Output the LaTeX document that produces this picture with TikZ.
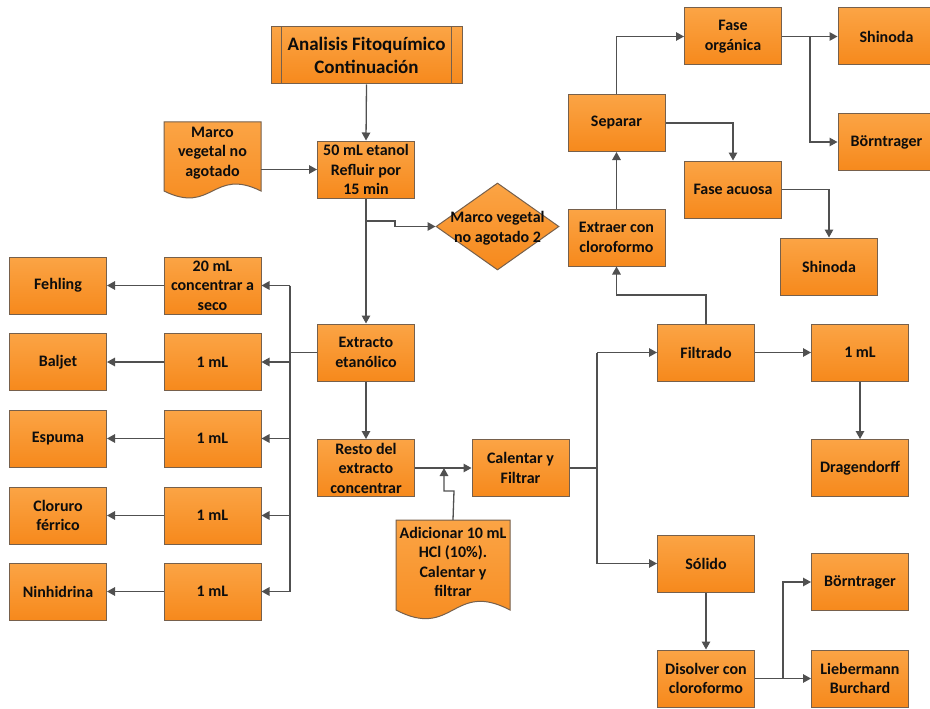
\documentclass[tikz,border=0pt]{standalone}
\usepackage{fontspec}
\setmainfont{Carlito}
\usetikzlibrary{arrows.meta,shapes.geometric}
\definecolor{boxtop}{HTML}{FBA445}
\definecolor{boxbot}{HTML}{F6891C}
\definecolor{boxline}{HTML}{76604C}
\definecolor{wire}{HTML}{505050}
\tikzset{
  txt/.style={font=\fontsize{16}{19.5}\selectfont\bfseries, text=black!95, align=center},
  stepbox/.style={txt, draw=boxline, line width=1pt, top color=boxtop, bottom color=boxbot,
    minimum width=97pt, minimum height=57pt, inner sep=1pt},
  docfill/.style={draw=boxline, line width=1pt, top color=boxtop, bottom color=boxbot},
  conn/.style={draw=wire, line width=1.3pt},
  arr/.style={conn, -{Triangle[length=8pt,width=8.5pt]}}
}
% document shape: flat top, wavy bottom edge
\newcommand\docpath[5]{%
  \path[docfill] (#1,#2) -- (#3,#2) -- (#3,#4)
    .. controls ({(#1+#3)/2},{#4-#5}) and ({(#1+#3)/2},{#4+#5}) .. (#1,#4) -- cycle;}
\begin{document}
\begin{tikzpicture}[x=1pt,y=-1pt]
\path[fill=white,use as bounding box] (0,0) rectangle (930,709);

% title (predefined process)
\node[stepbox, minimum width=191pt, font=\fontsize{19}{23}\selectfont\bfseries] (title) at (366.5,55.5)
  {Analisis Fitoquímico\\Continuación};
\draw[boxline, line width=1pt] ([xshift=11pt]title.north west) -- ([xshift=11pt]title.south west);
\draw[boxline, line width=1pt] ([xshift=-11pt]title.north east) -- ([xshift=-11pt]title.south east);

% main column
\node[stepbox] (t50) at (366,169.5) {50 mL etanol\\Refluir por\\15 min};
\node[stepbox] (ext) at (366,352.5) {Extracto\\etanólico};
\node[stepbox] (resto) at (366,468) {Resto del\\extracto\\concentrar};
\node[stepbox] (cal) at (520.5,468) {Calentar y\\Filtrar};

% documents
\docpath{164}{122}{261}{191}{24}
\node[txt, minimum width=97pt, minimum height=60pt, inner sep=0pt] (marco) at (212.5,153) {Marco\\vegetal no\\agotado};
\docpath{396}{520}{510}{610}{30}
\node[txt, minimum width=114pt, minimum height=84pt, inner sep=0pt] (adic) at (453,562)
  {Adicionar 10 mL\\HCl (10\%).\\Calentar y\\filtrar};

% decision
\node[diamond, draw=boxline, line width=1pt, top color=boxtop, bottom color=boxbot,
  minimum width=123pt, minimum height=87pt, inner sep=0pt] (dia) at (497.5,226.5) {};
\node[txt, inner sep=0pt] (diatext) at (497.5,228) {Marco vegetal\\no agotado 2};

% left branch
\node[stepbox] (m1) at (212.5,285.5) {20 mL\\concentrar a\\seco};
\node[stepbox] (m2) at (212.5,362) {1 mL};
\node[stepbox] (m3) at (212.5,438.5) {1 mL};
\node[stepbox] (m4) at (212.5,515.5) {1 mL};
\node[stepbox] (m5) at (212.5,591.5) {1 mL};
\node[stepbox] (l1) at (58,285.5) {Fehling};
\node[stepbox] (l2) at (58,362) {Baljet};
\node[stepbox] (l3) at (58,438.5) {Espuma};
\node[stepbox] (l4) at (58,515.5) {Cloruro\\férrico};
\node[stepbox] (l5) at (58,591.5) {Ninhidrina};

% right part
\node[stepbox] (filt) at (706,352.5) {Filtrado};
\node[stepbox] (mlr) at (860,352.5) {1 mL};
\node[stepbox] (drag) at (860,468) {Dragendorff};
\node[stepbox] (sol) at (706,563.5) {Sólido};
\node[stepbox] (dis) at (706,678.5) {Disolver con\\cloroformo};
\node[stepbox] (bornb) at (860,582) {Börntrager};
\node[stepbox] (lieb) at (860,678.5) {Liebermann\\Burchard};
\node[stepbox] (extr) at (616.5,237.5) {Extraer con\\cloroformo};
\node[stepbox] (sep) at (616.5,123) {Separar};
\node[stepbox] (forg) at (733,36.5) {Fase\\orgánica};
\node[stepbox] (shin1) at (886.5,36.5) {Shinoda};
\node[stepbox] (bornt) at (886.5,142) {Börntrager};
\node[stepbox] (facu) at (733,189.5) {Fase acuosa};
\node[stepbox] (shin2) at (829,266.5) {Shinoda};

% junction points
\coordinate (b1) at (366,221);
\coordinate (b2) at (395,226.5);
\coordinate (bus) at (290,352.5);
\coordinate (j1) at (444,468);
\coordinate (j2) at (454,491);
\coordinate (bus2) at (597,468);
\coordinate (k1) at (616.5,295);
\coordinate (fj) at (810,36.5);
\coordinate (dj) at (783,678.5);

% connectors
\draw[arr] (title.south) -- (t50.north);
\draw[arr] (t50.west -| marco.east) -- (t50.west);
\draw[arr] (t50.south) -- (ext.north);
\draw[arr] (b1) -| (b2) -- (dia.west);
\draw[conn] (ext.west) -- (bus);
\draw[conn] (m1.east -| bus) -- (m5.east -| bus);
\foreach \m in {m1,m2,m3,m4,m5} \draw[arr] (\m.east -| bus) -- (\m.east);
\foreach \m/\l in {m1/l1,m2/l2,m3/l3,m4/l4,m5/l5} \draw[arr] (\m.west) -- (\l.east);
\draw[arr] (ext.south) -- (resto.north);
\draw[arr] (resto.east) -- (cal.west);
\draw[arr] (adic.north) -- (j2) -| (j1);
\draw[conn] (cal.east) -- (bus2);
\draw[conn] (filt.west -| bus2) -- (sol.west -| bus2);
\draw[arr] (filt.west -| bus2) -- (filt.west);
\draw[arr] (sol.west -| bus2) -- (sol.west);
\draw[arr] (filt.east) -- (mlr.west);
\draw[arr] (mlr.south) -- (drag.north);
\draw[arr] (sol.south) -- (dis.north);
\draw[arr] (dis.east) -- (lieb.west);
\draw[arr] (dj) |- (bornb.west);
\draw[arr] (filt.north) |- (k1) -- (extr.south);
\draw[arr] (extr.north) -- (sep.south);
\draw[arr] (sep.north) |- (forg.west);
\draw[arr] (forg.east) -- (shin1.west);
\draw[arr] (fj) |- (bornt.west);
\draw[arr] (sep.east) -| (facu.north);
\draw[arr] (facu.east) -| (shin2.north);
\end{tikzpicture}
\end{document}
